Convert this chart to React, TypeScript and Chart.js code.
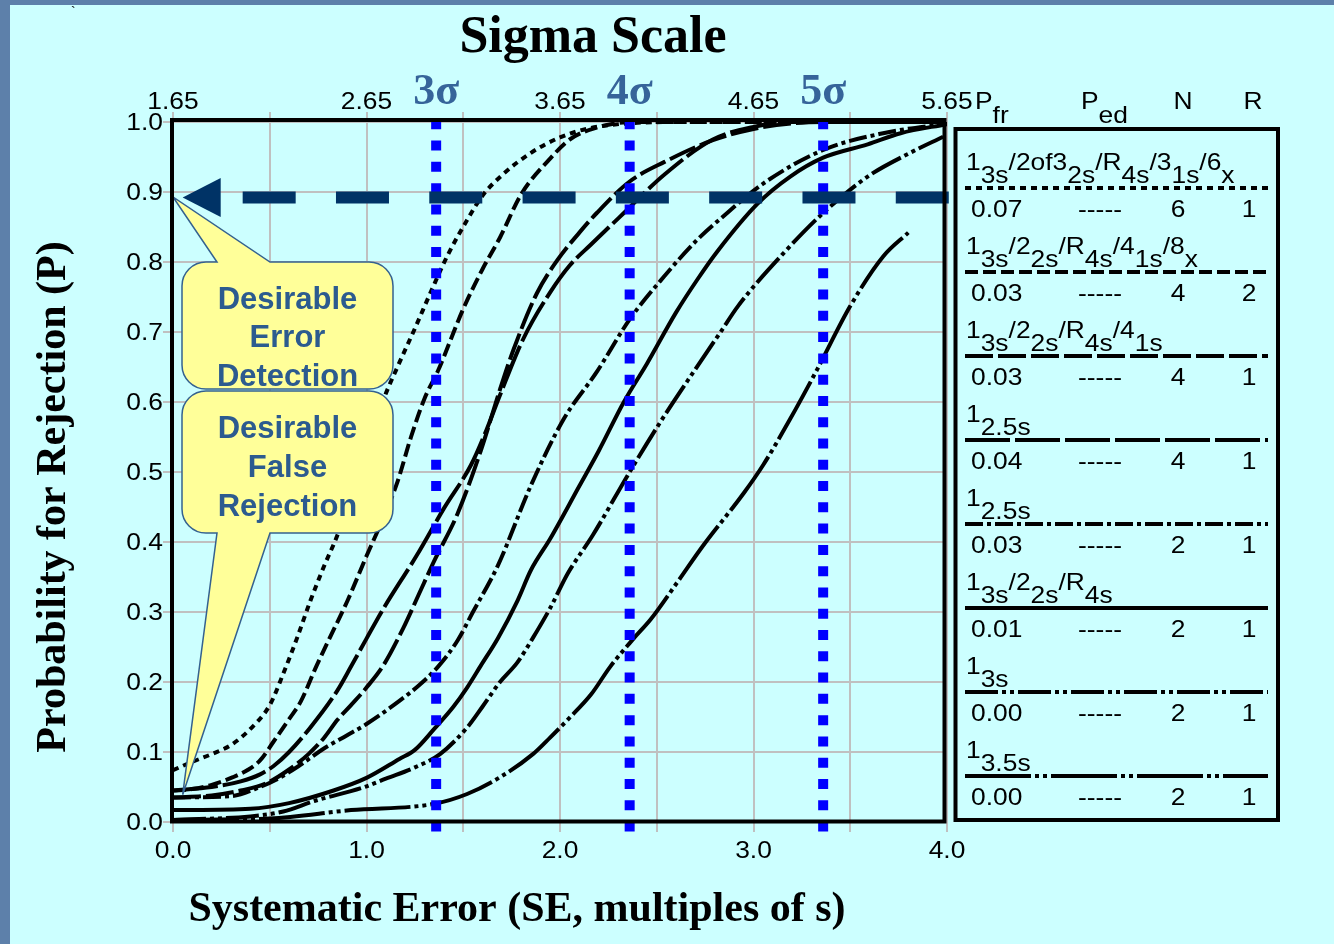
import { useEffect, useRef } from "react";
import { Chart, registerables } from "chart.js";

Chart.register(...registerables);

type Pt = [number, number];

const W = 1334;
const H = 944;

// Axes
const SE_MIN = 0;
const SE_MAX = 4;
const SE_STEP = 0.5;
const P_MIN = 0;
const P_MAX = 1;
const P_STEP = 0.1;
const SIGMA_AT_ZERO_SE = 1.65;

// Sigma reference lines (3σ, 4σ, 5σ) and where they sit on the SE axis
const sigmaMarks = [3, 4, 5];
const sigmaMarkSE = [1.36, 2.36, 3.36];

// Desired error detection level and where its arrow starts
const detectionTarget = 0.892;
const arrowStartSE = 0.05;

// Power curves: [SE, probability for rejection]
const curveMulti6: Pt[] = [
  [0, 0.074], [0.1, 0.086], [0.2, 0.097], [0.3, 0.11], [0.4, 0.133], [0.5, 0.167],
  [0.57, 0.212], [0.64, 0.262], [0.71, 0.316], [0.78, 0.365], [0.85, 0.41], [0.95, 0.49],
  [1.03, 0.555], [1.09, 0.605], [1.16, 0.65], [1.25, 0.705], [1.34, 0.762], [1.42, 0.81],
  [1.52, 0.86], [1.6, 0.895], [1.7, 0.924], [1.85, 0.956], [2.0, 0.978], [2.15, 0.991],
  [2.35, 0.998], [2.6, 1.0], [4.0, 1.0],
];
const curveMulti4R2: Pt[] = [
  [0, 0.045], [0.1, 0.047], [0.2, 0.053], [0.31, 0.064], [0.39, 0.075], [0.45, 0.088],
  [0.52, 0.115], [0.6, 0.147], [0.66, 0.172], [0.74, 0.222], [0.81, 0.263], [0.9, 0.315],
  [1.0, 0.38], [1.08, 0.43], [1.16, 0.486], [1.23, 0.55], [1.3, 0.605], [1.37, 0.645],
  [1.5, 0.733], [1.6, 0.79], [1.69, 0.835], [1.8, 0.897], [1.95, 0.948], [2.05, 0.975],
  [2.19, 0.992], [2.38, 1.0], [4.0, 1.0],
];
const curveMulti4: Pt[] = [
  [0, 0.035], [0.2, 0.038], [0.35, 0.045], [0.48, 0.055], [0.6, 0.075], [0.7, 0.097],
  [0.78, 0.12], [0.85, 0.146], [0.92, 0.167], [1.0, 0.192], [1.09, 0.225], [1.19, 0.277],
  [1.27, 0.325], [1.35, 0.373], [1.47, 0.44], [1.59, 0.53], [1.69, 0.618], [1.76, 0.675],
  [1.88, 0.755], [1.99, 0.804], [2.1, 0.842], [2.19, 0.87], [2.36, 0.915], [2.54, 0.943],
  [2.79, 0.974], [3.0, 0.99], [3.2, 0.998], [3.4, 1.0], [4.0, 1.0],
];
const curve25sN4: Pt[] = [
  [0, 0.045], [0.2, 0.05], [0.35, 0.058], [0.45, 0.068], [0.52, 0.08], [0.6, 0.1],
  [0.71, 0.135], [0.85, 0.188], [0.92, 0.222], [1.0, 0.262], [1.09, 0.306], [1.26, 0.381],
  [1.4, 0.448], [1.54, 0.51], [1.62, 0.56], [1.69, 0.61], [1.81, 0.69], [1.95, 0.757],
  [2.05, 0.795], [2.16, 0.825], [2.33, 0.87], [2.54, 0.925], [2.79, 0.975], [3.0, 0.993],
  [3.2, 1.0], [4.0, 1.0],
];
const curve25sN2: Pt[] = [
  [0, 0.035], [0.3, 0.037], [0.45, 0.05], [0.53, 0.06], [0.65, 0.08], [0.78, 0.105],
  [0.9, 0.124], [1.0, 0.14], [1.17, 0.173], [1.27, 0.195], [1.37, 0.222], [1.47, 0.259],
  [1.55, 0.3], [1.68, 0.367], [1.85, 0.481], [2.02, 0.576], [2.19, 0.643], [2.36, 0.718],
  [2.54, 0.78], [2.71, 0.832], [2.83, 0.862], [3.05, 0.912], [3.36, 0.96], [3.67, 0.984],
  [4.0, 0.998],
];
const curveMulti2: Pt[] = [
  [0, 0.017], [0.4, 0.019], [0.6, 0.027], [0.83, 0.045], [1.0, 0.063], [1.17, 0.09],
  [1.25, 0.103], [1.35, 0.133], [1.45, 0.165], [1.52, 0.192], [1.59, 0.223], [1.68, 0.263],
  [1.78, 0.316], [1.85, 0.36], [1.95, 0.405], [2.1, 0.48], [2.2, 0.53], [2.33, 0.6],
  [2.45, 0.655], [2.6, 0.728], [2.71, 0.775], [2.81, 0.814], [3.02, 0.883], [3.19, 0.922],
  [3.36, 0.949], [3.59, 0.968], [3.76, 0.984], [4.0, 0.997],
];
const curve3s: Pt[] = [
  [0, 0.003], [0.4, 0.008], [0.57, 0.015], [0.73, 0.03], [0.99, 0.05], [1.1, 0.062],
  [1.25, 0.078], [1.38, 0.097], [1.52, 0.135], [1.6, 0.165], [1.69, 0.2], [1.78, 0.228],
  [1.86, 0.263], [1.95, 0.306], [2.04, 0.355], [2.17, 0.41], [2.36, 0.5], [2.52, 0.572],
  [2.69, 0.643], [2.83, 0.7], [2.92, 0.737], [3.16, 0.814], [3.36, 0.87], [3.59, 0.922],
  [3.81, 0.956], [3.98, 0.979],
];
const curve35s: Pt[] = [
  [0, 0.003], [0.5, 0.005], [0.92, 0.017], [1.35, 0.026], [1.52, 0.04], [1.69, 0.064],
  [1.86, 0.097], [1.95, 0.121], [2.05, 0.149], [2.16, 0.182], [2.26, 0.222], [2.38, 0.262],
  [2.47, 0.29], [2.6, 0.34], [2.74, 0.395], [2.95, 0.47], [3.05, 0.51], [3.19, 0.576],
  [3.33, 0.647], [3.5, 0.737], [3.67, 0.808], [3.8, 0.842],
];

const curves = [
  curveMulti6, curveMulti4R2, curveMulti4, curve25sN4,
  curve25sN2, curveMulti2, curve3s, curve35s,
];

// Legend table
const ruleLabels = [
  "1_{3s}/2of3_{2s}/R_{4s}/3_{1s}/6_{x}",
  "1_{3s}/2_{2s}/R_{4s}/4_{1s}/8_{x}",
  "1_{3s}/2_{2s}/R_{4s}/4_{1s}",
  "1_{2.5s}",
  "1_{2.5s}",
  "1_{3s}/2_{2s}/R_{4s}",
  "1_{3s}",
  "1_{3.5s}",
];
const pfrValues = ["0.07", "0.03", "0.03", "0.04", "0.03", "0.01", "0.00", "0.00"];
const pedValues = ["-----", "-----", "-----", "-----", "-----", "-----", "-----", "-----"];
const nValues = ["6", "4", "4", "4", "2", "2", "2", "2"];
const rValues = ["1", "2", "1", "1", "1", "1", "1", "1"];
const lineDashes: number[][] = [
  [6, 5],
  [13, 5],
  [28, 5],
  [45, 5],
  [18, 4, 4, 4],
  [],
  [33, 4, 4, 4, 4, 4],
  [66, 4, 4, 4, 4, 4],
];
const tableHeaders = ["P_{fr}", "P_{ed}", "N", "R"];

// Callouts
const calloutTexts = [
  ["Desirable", "Error", "Detection"],
  ["Desirable", "False", "Rejection"],
];
const calloutTipSE = [0, 0.05];
const calloutTipP = [0.893, 0.039];

// Colours and fonts
const FRAME_BLUE = "#5d80aa";
const PANEL = "#ccffff";
const GRID = "#c0c0c0";
const NAVY = "#003366";
const SIGMA_BLUE = "#0000ff";
const SIGMA_TEXT = "#36649a";
const CALLOUT_FILL = "#ffff99";
const CALLOUT_EDGE = "#34618f";
const CALLOUT_TEXT = "#2c5b8f";
const SANS = '"Liberation Sans", Arial, sans-serif';
const SERIF = '"Liberation Serif", "Times New Roman", serif';
const STRETCH = 1.1;

function sText(
  ctx: CanvasRenderingContext2D,
  text: string,
  x: number,
  y: number,
  align: "left" | "center" | "right",
  stretch = STRETCH
): number {
  const w = ctx.measureText(text).width * stretch;
  const sx = align === "left" ? x : align === "center" ? x - w / 2 : x - w;
  ctx.save();
  ctx.translate(sx, y);
  ctx.scale(stretch, 1);
  ctx.textAlign = "left";
  ctx.fillText(text, 0, 0);
  ctx.restore();
  return w;
}

function drawRich(
  ctx: CanvasRenderingContext2D,
  spec: string,
  x: number,
  baseY: number,
  subY: number
) {
  const parts = spec.split(/(_\{[^}]*\})/).filter((p) => p.length > 0);
  let cx = x;
  for (const p of parts) {
    const sub = p.startsWith("_{");
    const t = sub ? p.slice(2, -1) : p;
    cx += sText(ctx, t, cx, sub ? subY : baseY, "left");
  }
}

function calloutPath(
  ctx: CanvasRenderingContext2D,
  x0: number,
  y0: number,
  x1: number,
  y1: number,
  r: number,
  edge: "top" | "bottom",
  a: number,
  b: number,
  tx: number,
  ty: number
) {
  ctx.beginPath();
  ctx.moveTo(x0 + r, y0);
  if (edge === "top") {
    ctx.lineTo(a, y0);
    ctx.lineTo(tx, ty);
    ctx.lineTo(b, y0);
  }
  ctx.lineTo(x1 - r, y0);
  ctx.arcTo(x1, y0, x1, y0 + r, r);
  ctx.lineTo(x1, y1 - r);
  ctx.arcTo(x1, y1, x1 - r, y1, r);
  if (edge === "bottom") {
    ctx.lineTo(b, y1);
    ctx.lineTo(tx, ty);
    ctx.lineTo(a, y1);
  }
  ctx.lineTo(x0 + r, y1);
  ctx.arcTo(x0, y1, x0, y1 - r, r);
  ctx.lineTo(x0, y0 + r);
  ctx.arcTo(x0, y0, x0 + r, y0, r);
  ctx.closePath();
}

const isWhole = (v: number) => Math.abs(v - Math.round(v)) < 1e-6;

const decorations = {
  id: "decorations",
  beforeDraw(chart: Chart) {
    const { ctx } = chart;
    ctx.save();
    ctx.fillStyle = FRAME_BLUE;
    ctx.fillRect(0, 0, W, H);
    ctx.fillStyle = PANEL;
    ctx.fillRect(10, 5, W - 10, H - 5);
    ctx.fillStyle = "#000";
    ctx.font = `14px ${SANS}`;
    ctx.fillText("`", 71, 17);
    ctx.restore();
  },
  afterDatasetsDraw(chart: Chart) {
    const { ctx, chartArea: ca } = chart;
    const xs = chart.scales.x;
    const x2 = chart.scales.x2;
    const ys = chart.scales.y;
    ctx.save();

    // Sigma reference lines
    ctx.strokeStyle = SIGMA_BLUE;
    ctx.lineWidth = 10;
    ctx.lineCap = "butt";
    ctx.setLineDash([10, 11.28]);
    sigmaMarkSE.forEach((se) => {
      const px = xs.getPixelForValue(se);
      ctx.beginPath();
      ctx.moveTo(px, ca.top - 2.7);
      ctx.lineTo(px, ca.bottom + 11);
      ctx.stroke();
    });
    ctx.setLineDash([]);

    // Callouts
    const boxes = [
      { x0: 182, y0: 262, x1: 393, y1: 389, edge: "top" as const, base: [309, 347, 386] },
      { x0: 182, y0: 391, x1: 393, y1: 533, edge: "bottom" as const, base: [438, 477, 516] },
    ];
    boxes.forEach((bx, i) => {
      const tx = xs.getPixelForValue(calloutTipSE[i]);
      const ty = ys.getPixelForValue(calloutTipP[i]);
      calloutPath(ctx, bx.x0, bx.y0, bx.x1, bx.y1, 24, bx.edge, 217, 270, tx, ty);
      ctx.fillStyle = CALLOUT_FILL;
      ctx.fill();
      ctx.strokeStyle = CALLOUT_EDGE;
      ctx.lineWidth = 1.5;
      ctx.stroke();
      ctx.fillStyle = CALLOUT_TEXT;
      ctx.font = `bold 31px ${SANS}`;
      ctx.textAlign = "center";
      ctx.textBaseline = "alphabetic";
      calloutTexts[i].forEach((line, j) => {
        ctx.fillText(line, (bx.x0 + bx.x1) / 2, bx.base[j]);
      });
    });

    // Detection target arrow
    const ay = ys.getPixelForValue(detectionTarget);
    const tipX = xs.getPixelForValue(arrowStartSE);
    ctx.fillStyle = NAVY;
    ctx.beginPath();
    ctx.moveTo(tipX, ay);
    ctx.lineTo(tipX + 38, ay - 19.5);
    ctx.lineTo(tipX + 38, ay + 19.5);
    ctx.closePath();
    ctx.fill();
    ctx.strokeStyle = NAVY;
    ctx.lineWidth = 12;
    ctx.setLineDash([53, 40.3]);
    ctx.beginPath();
    ctx.moveTo(tipX + 60, ay);
    ctx.lineTo(ca.right + 3, ay);
    ctx.stroke();
    ctx.setLineDash([]);

    // Plot frame
    ctx.strokeStyle = "#000";
    ctx.lineWidth = 4;
    ctx.strokeRect(ca.left - 1, ca.top - 2, ca.width - 1.5, ca.height + 1.5);

    // Tick labels
    ctx.fillStyle = "#000";
    ctx.font = `24px ${SANS}`;
    ctx.textBaseline = "middle";
    ys.ticks.forEach((t) => {
      sText(ctx, t.value.toFixed(1), ca.left - 10, ys.getPixelForValue(t.value) + 1, "right");
    });
    ctx.textBaseline = "alphabetic";
    xs.ticks.forEach((t) => {
      if (!isWhole(t.value)) return;
      sText(ctx, t.value.toFixed(1), xs.getPixelForValue(t.value), ca.bottom + 36, "center");
    });
    x2.ticks.forEach((t) => {
      if (!isWhole(t.value)) return;
      sText(
        ctx,
        (t.value + SIGMA_AT_ZERO_SE).toFixed(2),
        x2.getPixelForValue(t.value),
        ca.top - 13,
        "center"
      );
    });

    // Sigma labels
    ctx.fillStyle = SIGMA_TEXT;
    ctx.font = `bold 44px ${SERIF}`;
    ctx.textAlign = "center";
    sigmaMarks.forEach((s, i) => {
      ctx.fillText(`${s}σ`, xs.getPixelForValue(sigmaMarkSE[i]), ca.top - 18);
    });

    // Titles
    ctx.fillStyle = "#000";
    ctx.font = `bold 52px ${SERIF}`;
    ctx.fillText("Sigma Scale", 593, 52);
    ctx.font = `bold 42px ${SERIF}`;
    ctx.fillText("Systematic Error (SE, multiples of s)", 517, 921);
    ctx.save();
    ctx.translate(65, 497);
    ctx.rotate(-Math.PI / 2);
    ctx.fillText("Probability for Rejection (P)", 0, 0);
    ctx.restore();

    // Legend table
    const lx0 = 955.5;
    const ly0 = 129;
    ctx.strokeStyle = "#000";
    ctx.lineWidth = 4;
    ctx.strokeRect(lx0, ly0, 322.5, 691);

    ctx.fillStyle = "#000";
    ctx.font = `24px ${SANS}`;
    ctx.textAlign = "left";
    drawRich(ctx, tableHeaders[0], 975, 109, 123);
    drawRich(ctx, tableHeaders[1], 1081, 109, 123);
    sText(ctx, tableHeaders[2], 1183, 109, "center");
    sText(ctx, tableHeaders[3], 1253, 109, "center");

    const dsets = chart.data.datasets;
    ruleLabels.forEach((label, i) => {
      const lineY = 188 + 84 * i;
      ctx.fillStyle = "#000";
      drawRich(ctx, label, 966, lineY - 18, lineY - 5);
      const dash = ((dsets[i] as any).borderDash as number[]) || [];
      ctx.strokeStyle = "#000";
      ctx.lineWidth = 4;
      ctx.setLineDash(dash);
      ctx.beginPath();
      ctx.moveTo(965, lineY);
      ctx.lineTo(1268, lineY);
      ctx.stroke();
      ctx.setLineDash([]);
      const vy = lineY + 29;
      sText(ctx, pfrValues[i], 971, vy, "left");
      sText(ctx, pedValues[i], 1100, vy, "center");
      sText(ctx, nValues[i], 1178, vy, "center");
      sText(ctx, rValues[i], 1249, vy, "center");
    });

    ctx.restore();
  },
};

export default function App() {
  const ref = useRef<HTMLCanvasElement | null>(null);

  useEffect(() => {
    const canvas = ref.current;
    if (!canvas) return;
    const gridOpts = {
      color: GRID,
      lineWidth: 2,
      tickLength: 10,
      tickColor: GRID,
      tickWidth: 2,
    };
    const chart = new Chart(canvas, {
      type: "line",
      data: {
        datasets: curves.map((c, i) => ({
          label: ruleLabels[i],
          data: c.map(([x, y]) => ({ x, y })),
          borderColor: "#000",
          borderWidth: 4,
          borderDash: lineDashes[i],
          borderCapStyle: "butt" as const,
          pointRadius: 0,
          fill: false,
          cubicInterpolationMode: "monotone" as const,
        })),
      },
      options: {
        responsive: false,
        animation: false,
        events: [],
        layout: { padding: { left: 0, right: 387, top: 0, bottom: 0 } },
        plugins: {
          legend: { display: false },
          tooltip: { enabled: false },
          title: { display: false },
        },
        scales: {
          x: {
            type: "linear",
            position: "bottom",
            min: SE_MIN,
            max: SE_MAX,
            ticks: { stepSize: SE_STEP, display: false },
            grid: gridOpts,
            border: { display: false },
            afterFit: (s: any) => {
              s.height = 122;
            },
          },
          x2: {
            type: "linear",
            position: "top",
            min: SE_MIN,
            max: SE_MAX,
            ticks: { stepSize: SE_STEP, display: false },
            grid: { ...gridOpts, drawOnChartArea: false },
            border: { display: false },
            afterFit: (s: any) => {
              s.height = 122;
            },
          },
          y: {
            type: "linear",
            min: P_MIN,
            max: P_MAX,
            ticks: { stepSize: P_STEP, display: false },
            grid: gridOpts,
            border: { display: false },
            afterFit: (s: any) => {
              s.width = 173;
            },
          },
        },
      },
      plugins: [decorations],
    } as any);
    return () => chart.destroy();
  }, []);

  return (
    <div style={{ position: "fixed", left: 0, top: 0, width: W, height: H }}>
      <canvas ref={ref} width={W} height={H} style={{ display: "block", width: W, height: H }} />
    </div>
  );
}
